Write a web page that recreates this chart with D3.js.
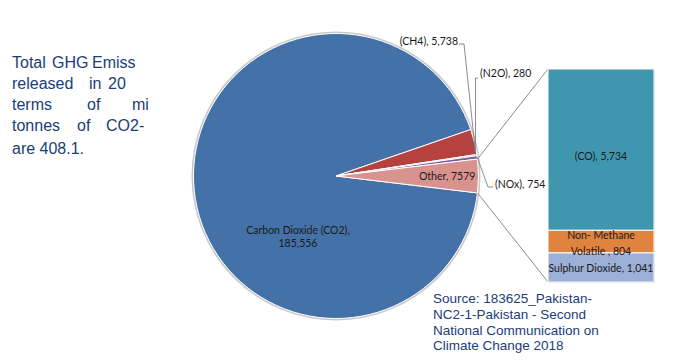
<!DOCTYPE html>
<html><head><meta charset="utf-8">
<script src="https://cdn.jsdelivr.net/npm/d3@7"></script>
<style>body{margin:0;background:#fff}svg{display:block}</style>
</head><body>
<svg id="c" width="700" height="361"></svg>
<script>
// ---- data ----
const pieCategories = ["Carbon Dioxide (CO2)", "(CH4)", "(N2O)", "(NOx)", "Other"];
const pieValues = [185556, 5738, 280, 754, 7579];
const pieLabels = ["Carbon Dioxide (CO2),|185,556", "(CH4), 5,738", "(N2O), 280", "(NOx), 754", "Other, 7579"];
const barCategories = ["Sulphur Dioxide", "Non- Methane Volatile", "(CO)"];
const barValues = [1041, 804, 5734];
const barLabels = ["Sulphur Dioxide, 1,041", "Non- Methane|Volatile , 804", "(CO), 5,734"];
const introLines = [["Total","GHG","Emiss"],["released","in","20"],["terms","of","mi"],["tonnes","of","CO2-"],["are 408.1."]];
const sourceLines = ["Source: 183625_Pakistan-","NC2-1-Pakistan - Second","National Communication on","Climate Change 2018"];

const pieColors = ["#4471A8", "#B5423F", "#8FB055", "#7A5BA0", "#D9938F"];
const barColors = ["#9BAFD7", "#DF833E", "#3F97AF"];

const svg = d3.select("#c");
const cx = 336, cy = 176, R = 142.5;

// ---- intro text (justified, clipped) ----
svg.append("clipPath").attr("id","introClip").append("rect").attr("x",0).attr("y",0).attr("width",148).attr("height",200);
const intro = svg.append("g").attr("clip-path","url(#introClip)")
  .style("font-family","'Liberation Sans', Arial, sans-serif").style("font-size","16px").attr("fill","#1A3D78");
const introX = [[12,52,92],[12,89,108],[12,87,132],[12,77,106],[12]];
const introY = [67.5, 88.5, 110, 130.5, 154];
introLines.forEach((words,i)=>{
  words.forEach((w,j)=>{
    intro.append("text").attr("x",introX[i][j]).attr("y",introY[i]).text(w);
  });
});

// ---- pie ----
const total = d3.sum(pieValues);
const otherHalf = pieValues[4]/total*Math.PI;
const start = Math.PI/2 + otherHalf;
const pie = d3.pie().sort(null).startAngle(start).endAngle(start + 2*Math.PI);
const arcs = pie(pieValues);
const arc = d3.arc().innerRadius(0).outerRadius(R);
const g = svg.append("g").attr("transform",`translate(${cx},${cy})`);
g.append("circle").attr("r",R+1).attr("fill","none").attr("stroke","#c8c8c8").attr("stroke-width",2);
g.selectAll("path.slice").data(arcs).join("path").attr("class","slice")
  .attr("d",arc).attr("fill",(d,i)=>pieColors[i]).attr("stroke","#fff").attr("stroke-width",1);

const pt = (a,r)=>[cx + r*Math.sin(a), cy - r*Math.cos(a)];
const font = "Lato, 'Open Sans', sans-serif";
const oc = arcs[4];
const ch4 = arcs[1], n2o = arcs[2], nox = arcs[3];

// ---- bar of pie ----
const barSum = d3.sum(barValues);
const y = d3.scaleLinear().domain([0, barSum]).range([282, 69]);
const bx0 = 548, bx1 = 654;
let cum = 0;
const stacks = barValues.map(v=>{const s={y0:cum,y1:cum+v}; cum+=v; return s;});
const otop = pt(oc.startAngle, R), obot = pt(oc.endAngle, R);
const conn = svg.append("g").attr("stroke","#808080").attr("stroke-width",0.9);
conn.append("line").attr("x1",otop[0]).attr("y1",otop[1]).attr("x2",bx0).attr("y2",y(barSum));
conn.append("line").attr("x1",obot[0]).attr("y1",obot[1]).attr("x2",bx0).attr("y2",y(0));
svg.append("rect").attr("x",bx0+1).attr("y",y(barSum)+1).attr("width",bx1-bx0).attr("height",y(0)-y(barSum))
  .attr("fill","#d4d4d4");
svg.selectAll("rect.bar").data(stacks).join("rect").attr("class","bar")
  .attr("x",bx0).attr("width",bx1-bx0)
  .attr("y",d=>y(d.y1)).attr("height",d=>y(d.y0)-y(d.y1))
  .attr("fill",(d,i)=>barColors[i]).attr("stroke","#fff").attr("stroke-width",1);

// ---- labels ----
const labelG = svg.append("g").style("font-family",font).style("font-size","10.5px").attr("fill","#1a1a1a");
const co2 = pieLabels[0].split("|");
labelG.append("text").attr("x",298).attr("y",234).attr("text-anchor","middle").text(co2[0]);
labelG.append("text").attr("x",298).attr("y",247).attr("text-anchor","middle").text(co2[1]);
const om = (oc.startAngle+oc.endAngle)/2;
const op = pt(om, R*0.78);
labelG.append("text").attr("x",op[0]).attr("y",op[1]+4).attr("text-anchor","middle").text(pieLabels[4]);

const lead = svg.append("g").attr("stroke","#808080").attr("stroke-width",0.9).attr("fill","none");
const ch4p = pt(ch4.startAngle + (ch4.endAngle-ch4.startAngle)*0.88, R-1);
lead.append("polyline").attr("points",[[459,44],[464,44],ch4p].map(p=>p.join(",")).join(" "));
labelG.append("text").attr("x",458).attr("y",45).attr("text-anchor","end").text(pieLabels[1]);
const n2op = pt((n2o.startAngle+n2o.endAngle)/2, R);
lead.append("polyline").attr("points",[[478,78],[475.5,78],[475.5,n2op[1]]].map(p=>p.join(",")).join(" "));
labelG.append("text").attr("x",480).attr("y",77).text(pieLabels[2]);
const noxp = pt((nox.startAngle+nox.endAngle)/2, R);
lead.append("polyline").attr("points",[noxp,[488,187],[493,187]].map(p=>p.join(",")).join(" "));
labelG.append("text").attr("x",495).attr("y",188).text(pieLabels[3]);

const bxm = (bx0+bx1)/2;
labelG.append("text").attr("x",bxm).attr("y",(y(stacks[2].y0)+y(stacks[2].y1))/2+10).attr("text-anchor","middle").text(barLabels[2]);
const nm = barLabels[1].split("|");
labelG.append("text").attr("x",bxm).attr("y",239).attr("text-anchor","middle").text(nm[0]);
labelG.append("text").attr("x",bxm).attr("y",255).attr("text-anchor","middle").text(nm[1]);
labelG.append("text").attr("x",bxm).attr("y",(y(stacks[0].y0)+y(stacks[0].y1))/2+5).attr("text-anchor","middle").text(barLabels[0]);

// ---- source ----
const src = svg.append("g").style("font-family","'Liberation Sans', Arial, sans-serif").style("font-size","13.5px").attr("fill","#1A3D78");
const srcY = [303, 319, 334.5, 350];
sourceLines.forEach((l,i)=>src.append("text").attr("x",433).attr("y",srcY[i]).text(l));
</script>
</body></html>
